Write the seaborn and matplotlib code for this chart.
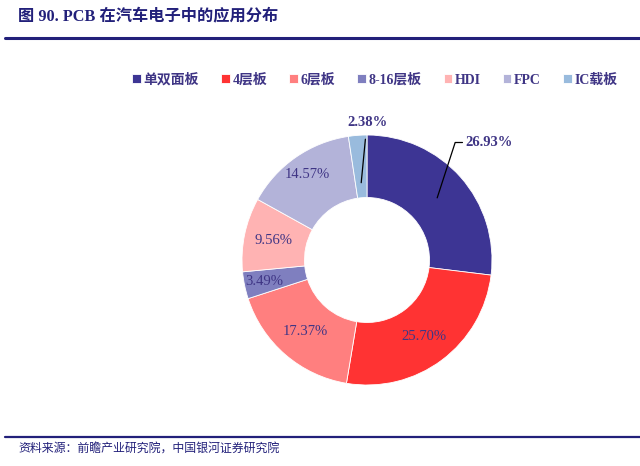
import matplotlib
matplotlib.use("Agg")
import matplotlib.pyplot as plt
import seaborn as sns
import numpy as np

# data
labels = ['单双面板', '4层板', '6层板', '8-16层板', 'HDI', 'FPC', 'IC载板']
shares = [26.93, 25.70, 17.37, 3.49, 9.56, 14.57, 2.38]
colors = ['#3D3594', '#FF3333', '#FF7F7F', '#7F7FBF', '#FFB3B3', '#B3B3D9', '#99BBDD']

title = '图 90. PCB 在汽车电子中的应用分布'
source = '资料来源：前瞻产业研究院，中国银河证券研究院'

sns.set_theme(style='white')
plt.rcParams['font.family'] = ['Liberation Serif', 'Noto Sans CJK SC', 'DejaVu Sans']
navy = '#22207A'
txt = '#3F3585'

fig = plt.figure(figsize=(6.4, 4.66), dpi=100)
W, H = 640, 466

# pie axes: center (367, 260) px, radius 125 px
cx, cy, r = 367, 260, 125
ax = fig.add_axes([(cx - r) / W, (H - cy - r) / H, 2 * r / W, 2 * r / H])
wedges, texts, autotexts = ax.pie(
    shares, colors=colors, startangle=90, counterclock=False,
    autopct='%.2f%%', pctdistance=0.76,
    wedgeprops=dict(width=0.5, edgecolor='white', linewidth=0.6),
    textprops=dict(color=txt, fontsize=10.5))
ax.set_xlim(-1, 1)
ax.set_ylim(-1, 1)
ax.set_aspect('equal')

# small labels pushed a bit further out
for i in (3, 5):
    x, y = autotexts[i].get_position()
    autotexts[i].set_position((x * 1.1, y * 1.1))

# first and last slices get leader lines
def mid(i):
    w = wedges[i]
    return np.deg2rad((w.theta1 + w.theta2) / 2)

for t in (autotexts[0], autotexts[-1]):
    t.set_visible(False)

a0 = mid(0)
ax.annotate(f'{shares[0]:.2f}%', xy=(0.75 * np.cos(a0), 0.75 * np.sin(a0)),
            xytext=(0.79, 0.94), ha='left', va='center', fontsize=10.5,
            fontweight='bold', color=txt,
            arrowprops=dict(arrowstyle='-', color='black', lw=0.9,
                            shrinkA=0, shrinkB=0,
                            connectionstyle='angle,angleA=0,angleB=72'))
a6 = mid(6)
ax.annotate(f'{shares[-1]:.2f}%', xy=(0.62 * np.cos(a6), 0.62 * np.sin(a6)),
            xytext=(0.0, 1.1), ha='center', va='center', fontsize=10.5,
            fontweight='bold', color=txt,
            arrowprops=dict(arrowstyle='-', color='black', lw=0.9,
                            shrinkA=5, shrinkB=0))

# legend
leg = fig.legend(wedges, labels, loc='center', bbox_to_anchor=(375 / W, 1 - 80 / H),
                 ncol=7, frameon=False, fontsize=10, handlelength=0.6,
                 handleheight=0.6, handletextpad=0.2, columnspacing=1.6)
for t in leg.get_texts():
    t.set_color(txt)
    t.set_fontweight('bold')

# title, rules and source
fig.text(18 / W, 1 - 16 / H, title, fontsize=11.7, fontweight='bold', color=navy,
         ha='left', va='center')
fig.add_artist(plt.Line2D([5 / W, 1], [1 - 38 / H] * 2, color=navy, lw=2.2))
fig.add_artist(plt.Line2D([5 / W, 1], [1 - 437 / H] * 2, color=navy, lw=1.6))
fig.text(18 / W, 1 - 450 / H, source, fontsize=8.6, style='italic', color=navy,
         ha='left', va='center')

fig.savefig('out.png', dpi=100)
